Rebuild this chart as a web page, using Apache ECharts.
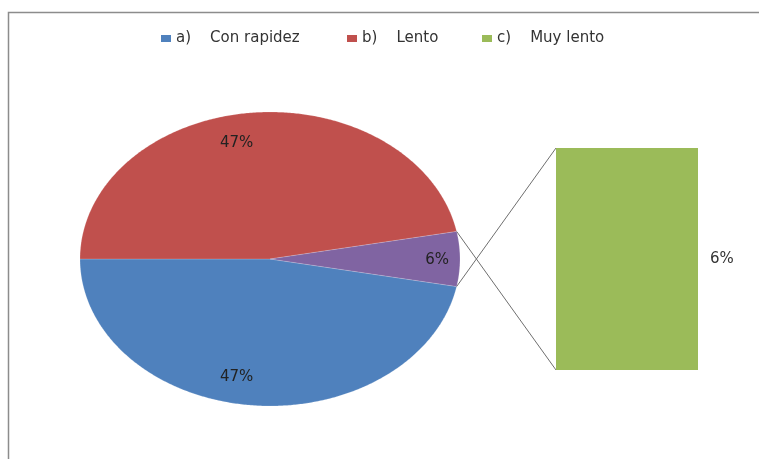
<!DOCTYPE html>
<html>
<head>
<meta charset="utf-8">
<script src="https://cdn.jsdelivr.net/npm/echarts@6/dist/echarts.min.js"></script>
<style>
  html, body { margin: 0; padding: 0; background: #fff; }
  #chart { width: 759px; height: 459px; }
</style>
</head>
<body>
<div id="chart"></div>
<script>
// data
var categories = ['a)    Con rapidez', 'b)    Lento', 'c)    Muy lento'];
var pieValues = [47, 47, 6];      // a, b, and the "other" slice that holds c
var barValues = [6];              // breakdown of the other slice: c) Muy lento
var colors = ['#4F81BD', '#C0504D', '#9BBB59'];
var otherColor = '#8064A2';

// layout of the elliptical pie and the side bar
var cx = 270, cy = 259, rx = 190, ry = 147;
var barBox = { left: 556, top: 148, width: 142, height: 222 };
var legendLeft = [161, 347, 482];
var labelFont = '15px "DejaVu Sans"';

var total = pieValues.reduce(function (a, b) { return a + b; }, 0);
// other slice is centred on 3 o'clock, slices run clockwise
var startDeg = pieValues[2] / total * 180;

function sliceRange(k) {
  var s = startDeg;
  for (var j = 0; j < k; j++) s += pieValues[j] / total * 360;
  return [s, s + pieValues[k] / total * 360];
}

function pt(deg, f) {
  var a = deg * Math.PI / 180;
  return [cx + rx * f * Math.cos(a), cy + ry * f * Math.sin(a)];
}

function makeSlice(k, color, labelR, labelDx) {
  return function (params, api) {
    var v = api.value(0);
    var r = sliceRange(k);
    var points = [[cx, cy]];
    for (var d = r[0]; d < r[1]; d += 0.5) points.push(pt(d, 1));
    points.push(pt(r[1], 1));
    var mid = (r[0] + r[1]) / 2;
    var lp = pt(mid, labelR);
    var children = [{
      type: 'polygon',
      shape: { points: points },
      style: { fill: color, stroke: 'rgba(255,255,255,0.35)', lineWidth: 0.5 }
    }, {
      type: 'text',
      x: lp[0] + labelDx, y: lp[1] + 1,
      style: {
        text: Math.round(v / total * 100) + '%',
        font: labelFont, fill: '#222',
        align: 'center', verticalAlign: 'middle'
      }
    }];
    if (k === 2) {
      // connector lines from the other slice to the bar
      var p1 = pt(r[0], 1), p2 = pt(r[1], 1);
      children.push({
        type: 'line',
        shape: { x1: p2[0], y1: p2[1], x2: barBox.left, y2: barBox.top },
        style: { stroke: '#6f6f6f', lineWidth: 1 }
      }, {
        type: 'line',
        shape: { x1: p1[0], y1: p1[1], x2: barBox.left, y2: barBox.top + barBox.height },
        style: { stroke: '#6f6f6f', lineWidth: 1 }
      });
    }
    return { type: 'group', children: children };
  };
}

var myChart = echarts.init(document.getElementById('chart'));

option = {
  backgroundColor: '#fff',
  animation: false,
  legend: categories.map(function (name, i) {
    return {
      data: [name],
      left: legendLeft[i],
      top: 31,
      padding: 0,
      itemWidth: 10,
      itemHeight: 7,
      itemGap: 5,
      icon: 'rect',
      selectedMode: false,
      textStyle: { fontFamily: 'DejaVu Sans', fontSize: 15, color: '#333' }
    };
  }),
  graphic: [{
    type: 'rect',
    silent: true,
    shape: { x: 8.5, y: 12.5, width: 800, height: 500 },
    style: { fill: 'none', stroke: '#8c8c8c', lineWidth: 1.5 }
  }],
  grid: {
    left: barBox.left,
    top: barBox.top,
    width: barBox.width,
    height: barBox.height
  },
  xAxis: { type: 'category', data: [categories[2]], show: false },
  yAxis: { type: 'value', min: 0, max: barValues[0], show: false },
  series: [{
    name: categories[0],
    type: 'custom',
    coordinateSystem: 'none',
    itemStyle: { color: colors[0] },
    data: [pieValues[0]],
    renderItem: makeSlice(0, colors[0], 0.8, -19)
  }, {
    name: categories[1],
    type: 'custom',
    coordinateSystem: 'none',
    itemStyle: { color: colors[1] },
    data: [pieValues[1]],
    renderItem: makeSlice(1, colors[1], 0.8, -19)
  }, {
    name: 'other',
    type: 'custom',
    coordinateSystem: 'none',
    itemStyle: { color: otherColor },
    data: [pieValues[2]],
    renderItem: makeSlice(2, otherColor, 0.88, 0)
  }, {
    name: categories[2],
    type: 'bar',
    barWidth: '100%',
    itemStyle: { color: colors[2] },
    data: barValues,
    label: {
      show: true,
      position: 'right',
      distance: 12,
      formatter: function (p) { return Math.round(p.value / total * 100) + '%'; },
      fontFamily: 'DejaVu Sans',
      fontSize: 15,
      color: '#333'
    }
  }]
};

myChart.setOption(option);
</script>
</body>
</html>
